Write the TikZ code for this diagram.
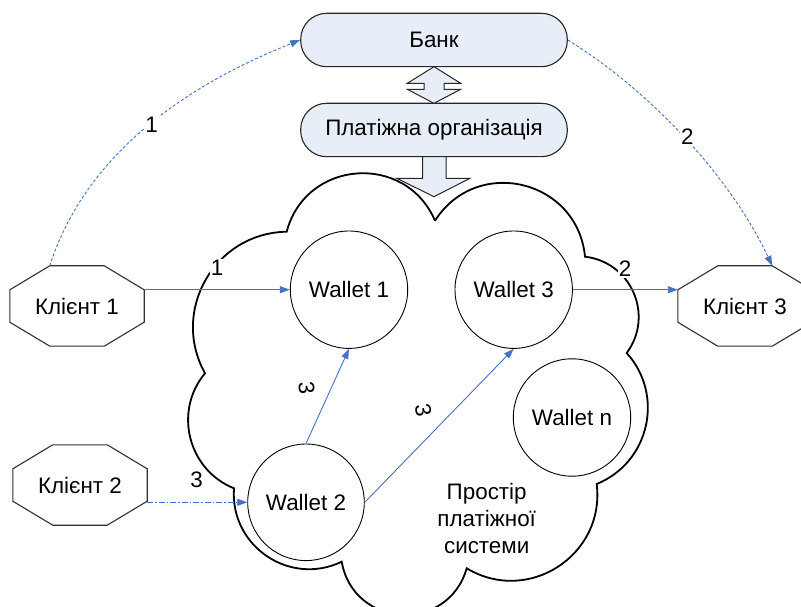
\documentclass[tikz,border=0pt]{standalone}
\usepackage{fontspec}
\setmainfont{Liberation Sans}
\usetikzlibrary{arrows.meta,calc}
\definecolor{boxfill}{RGB}{232,238,247}
\definecolor{connblue}{RGB}{68,114,196}
\definecolor{octgray}{RGB}{50,50,50}
\newcommand\octdraw[1]{\draw[octstyle] ($(#1.north west)+(40,0)$) -- ($(#1.north east)+(-40,0)$) -- ($(#1.north east)+(0,-24)$) -- ($(#1.south east)+(0,24)$) -- ($(#1.south east)+(-40,0)$) -- ($(#1.south west)+(40,0)$) -- ($(#1.south west)+(0,24)$) -- ($(#1.north west)+(0,-24)$) -- cycle;}
\begin{document}
\begin{tikzpicture}[x=1pt,y=1pt,font=\fontsize{22.4}{26.7}\selectfont,
  roundbox/.style={draw=black!85,line width=1.1pt,fill=boxfill,rounded corners=26pt,minimum width=266.6pt,minimum height=53.4pt,inner sep=0pt},
  wallet/.style={circle,draw=black,line width=0.9pt,minimum size=117.4pt,inner sep=0pt},
  client/.style={minimum width=134pt,minimum height=80pt,inner sep=0pt},
  octstyle/.style={draw=octgray,line width=1.1pt},
  blockarrow/.style={draw=black!85,line width=1pt,fill=boxfill},
  cloudline/.style={draw=black,line width=1.8pt},
  solidconn/.style={draw=connblue,line width=0.9pt,-{Triangle[length=10pt,width=7pt]}},
  dashconn/.style={draw=connblue,line width=0.9pt,dash pattern=on 3pt off 2pt,-{Triangle[length=10pt,width=7pt]}},
  dotdashconn/.style={draw=connblue,line width=0.9pt,dash pattern=on 6pt off 2pt on 1.5pt off 2pt,-{Triangle[length=10pt,width=7pt]}},
  lbl/.style={fill=white,inner sep=1pt}]
\clip (0,0) rectangle (801,606);
\fill[white] (0,0) rectangle (801,606);
% cloud
\draw[cloudline] (435,385.3) to[bend left=71,looseness=1.285] (585,349.3)
  to[bend left=60,looseness=1.135] (626.7,253)
  to[bend left=55,looseness=1.082] (596.7,122)
  to[bend left=64,looseness=1.184] (466.7,37.7)
  to[bend left=77,looseness=1.39] (341.7,44.3)
  to[bend left=60,looseness=1.135] (234,117.7)
  to[bend left=54,looseness=1.07] (205,232.7)
  to[bend left=59,looseness=1.124] (286.7,374.3)
  to[bend left=71,looseness=1.285] (435,385.3);
% boxes
\node[roundbox] (bank) at (434,566) {Банк};
\node[roundbox] (org) at (434,476) {Платіжна організація};
% double arrow
\draw[blockarrow] (434,539.3) -- (460.7,522.7) -- (444,522.7) -- (444,516.7) -- (460.7,516.7)
  -- (434,502.7) -- (407.3,516.7) -- (424,516.7) -- (424,522.7) -- (407.3,522.7) -- cycle;
% down arrow
\draw[blockarrow] (422.7,449.3) -- (446,449.3) -- (446,427.7) -- (470,427.7) -- (434,409.3)
  -- (396.7,427.7) -- (422.7,427.7) -- cycle;
% wallets
\node[wallet] (w1) at (349,316.3) {Wallet 1};
\node[wallet] (w3) at (513.7,316.3) {Wallet 3};
\node[wallet] (wn) at (572,188.5) {Wallet n};
\node[wallet,minimum size=116.6pt] (w2) at (306,103.7) {Wallet 2};
\node[align=center] (space) at (486.7,87.7) {Простір\\платіжної\\системи};
% clients
\node[client] (k1) at (77,300) {Клієнт 1};
\node[client] (k2) at (80,121) {Клієнт 2};
\node[client] (k3) at (745,300) {Клієнт 3};
\octdraw{k1}
\octdraw{k2}
\octdraw{k3}
% connectors
\draw[solidconn] (k1.east |- w1.west) -- (w1.west);
\draw[solidconn] (w3.east) -- (k3.west |- w3.east);
\draw[dotdashconn] (k2.east |- w2.west) -- (w2.west);
\draw[solidconn] (w2.north) -- (w1.south);
\draw[solidconn] (w2.east) -- (w3.south);
\draw[dashconn] ($(k1.north west)+(40,0)$) .. controls (90,466) and (210,530) .. (bank.west);
\draw[dashconn] (bank.east) .. controls (650,515) and (730,430) .. ($(k3.north east)+(-40,0)$);
% labels
\node[lbl] (la) at (151.7,481) {1};
\node[lbl] (lb) at (687.3,469.3) {2};
\node[lbl] (lc) at (217,338) {1};
\node[lbl] (ld) at (625,337) {2};
\node[lbl] (le) at (196.7,126) {3};
\node[lbl,rotate=-85] (lf) at (306.7,218) {3};
\node[lbl,rotate=-80] (lg) at (423.3,196) {3};
\end{tikzpicture}
\end{document}
